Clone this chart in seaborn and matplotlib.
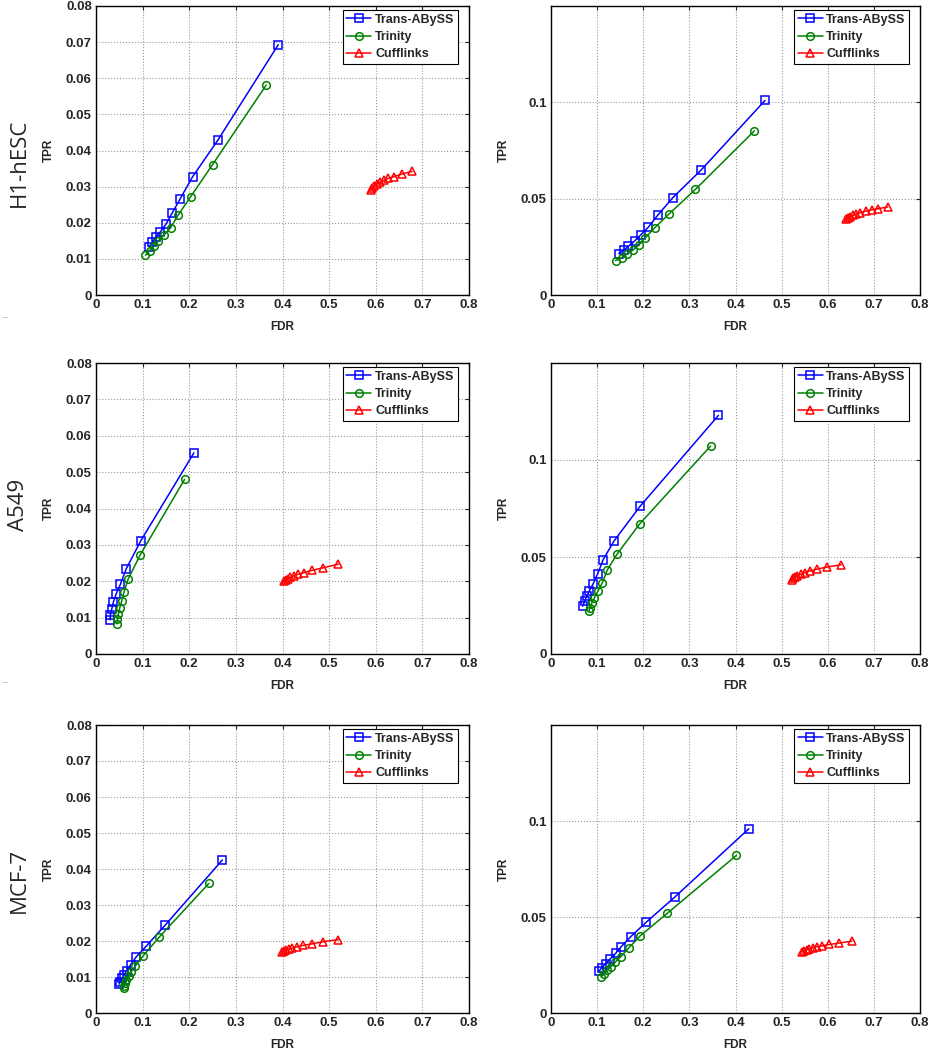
import matplotlib
matplotlib.use("Agg")
import matplotlib.pyplot as plt
import seaborn as sns
import pandas as pd

# method names, shared by all panels
METHODS = ["Trans-ABySS", "Trinity", "Cufflinks"]
ROW_NAMES = ["H1-hESC", "A549", "MCF-7"]

# H1-hESC, left panel
H1_L_ABYSS_FDR = [0.391, 0.261, 0.207, 0.180, 0.163, 0.150, 0.138, 0.128, 0.121, 0.114]
H1_L_ABYSS_TPR = [0.0693, 0.0428, 0.0327, 0.0265, 0.0226, 0.0196, 0.0175, 0.0160, 0.0146, 0.0133]
H1_L_TRIN_FDR = [0.365, 0.250, 0.203, 0.176, 0.160, 0.145, 0.134, 0.124, 0.115, 0.106]
H1_L_TRIN_TPR = [0.0581, 0.0361, 0.0272, 0.0221, 0.0186, 0.0165, 0.0150, 0.0136, 0.0123, 0.0110]
H1_L_CUFF_FDR = [0.678, 0.656, 0.640, 0.627, 0.617, 0.609, 0.602, 0.597, 0.593, 0.589]
H1_L_CUFF_TPR = [0.0342, 0.0335, 0.0328, 0.0323, 0.0317, 0.0312, 0.0307, 0.0301, 0.0296, 0.0290]

# H1-hESC, right panel
H1_R_ABYSS_FDR = [0.464, 0.326, 0.264, 0.232, 0.211, 0.195, 0.182, 0.168, 0.158, 0.147]
H1_R_ABYSS_TPR = [0.101, 0.065, 0.0505, 0.0416, 0.0352, 0.0313, 0.0282, 0.0253, 0.0234, 0.0215]
H1_R_TRIN_FDR = [0.441, 0.313, 0.256, 0.225, 0.204, 0.190, 0.177, 0.164, 0.153, 0.140]
H1_R_TRIN_TPR = [0.0852, 0.0548, 0.0421, 0.0349, 0.0296, 0.0258, 0.0232, 0.0211, 0.0194, 0.0179]
H1_R_CUFF_FDR = [0.730, 0.709, 0.695, 0.682, 0.671, 0.662, 0.655, 0.648, 0.643, 0.639]
H1_R_CUFF_TPR = [0.0457, 0.0448, 0.0442, 0.0435, 0.0428, 0.0421, 0.0414, 0.0407, 0.0400, 0.0395]

# A549, left panel
A5_L_ABYSS_FDR = [0.210, 0.0964, 0.0647, 0.0525, 0.0432, 0.0374, 0.0338, 0.0309, 0.0302]
A5_L_ABYSS_TPR = [0.0553, 0.0312, 0.0234, 0.0192, 0.0165, 0.0143, 0.0124, 0.0108, 0.0094]
A5_L_TRIN_FDR = [0.190, 0.095, 0.069, 0.060, 0.055, 0.051, 0.048, 0.046, 0.045]
A5_L_TRIN_TPR = [0.0480, 0.0273, 0.0206, 0.0170, 0.0145, 0.0127, 0.0110, 0.0096, 0.0083]
A5_L_CUFF_FDR = [0.520, 0.487, 0.464, 0.446, 0.434, 0.424, 0.417, 0.412, 0.408, 0.404]
A5_L_CUFF_TPR = [0.0247, 0.0237, 0.0230, 0.0224, 0.0219, 0.0215, 0.0211, 0.0207, 0.0203, 0.0200]

# A549, right panel
A5_R_ABYSS_FDR = [0.363, 0.193, 0.137, 0.113, 0.101, 0.0912, 0.0832, 0.0774, 0.0731, 0.0687]
A5_R_ABYSS_TPR = [0.1230, 0.0761, 0.0584, 0.0486, 0.0412, 0.0361, 0.0326, 0.0297, 0.0273, 0.0246]
A5_R_TRIN_FDR = [0.346, 0.192, 0.143, 0.122, 0.111, 0.102, 0.094, 0.088, 0.085, 0.082]
A5_R_TRIN_TPR = [0.1072, 0.0670, 0.0514, 0.0433, 0.0366, 0.0325, 0.0290, 0.0261, 0.0239, 0.0220]
A5_R_CUFF_FDR = [0.629, 0.598, 0.577, 0.561, 0.550, 0.541, 0.534, 0.529, 0.525, 0.522]
A5_R_CUFF_TPR = [0.0460, 0.0448, 0.0438, 0.0428, 0.0419, 0.0411, 0.0404, 0.0397, 0.0390, 0.0383]

# MCF-7, left panel
MC_L_ABYSS_FDR = [0.271, 0.149, 0.108, 0.0863, 0.0741, 0.0662, 0.0604, 0.0554, 0.0518, 0.0496]
MC_L_ABYSS_TPR = [0.0425, 0.0245, 0.0186, 0.0156, 0.0134, 0.0118, 0.0106, 0.0096, 0.0087, 0.0080]
MC_L_TRIN_FDR = [0.242, 0.135, 0.100, 0.084, 0.075, 0.070, 0.065, 0.063, 0.060, 0.059]
MC_L_TRIN_TPR = [0.0360, 0.0210, 0.0157, 0.0130, 0.0114, 0.0102, 0.0092, 0.0084, 0.0076, 0.0070]
MC_L_CUFF_FDR = [0.520, 0.487, 0.463, 0.445, 0.432, 0.421, 0.414, 0.408, 0.404, 0.399]
MC_L_CUFF_TPR = [0.0204, 0.0198, 0.0192, 0.0188, 0.0184, 0.0180, 0.0177, 0.0174, 0.0171, 0.0169]

# MCF-7, right panel
MC_R_ABYSS_FDR = [0.429, 0.268, 0.206, 0.173, 0.152, 0.140, 0.128, 0.119, 0.110, 0.104]
MC_R_ABYSS_TPR = [0.0960, 0.0603, 0.0472, 0.0398, 0.0345, 0.0310, 0.0281, 0.0257, 0.0236, 0.0217]
MC_R_TRIN_FDR = [0.402, 0.252, 0.194, 0.169, 0.151, 0.139, 0.130, 0.121, 0.114, 0.109]
MC_R_TRIN_TPR = [0.0821, 0.0519, 0.0403, 0.0340, 0.0293, 0.0264, 0.0241, 0.0222, 0.0205, 0.0188]
MC_R_CUFF_FDR = [0.652, 0.624, 0.603, 0.588, 0.576, 0.567, 0.559, 0.554, 0.549, 0.545]
MC_R_CUFF_TPR = [0.0374, 0.0364, 0.0357, 0.0350, 0.0345, 0.0340, 0.0334, 0.0329, 0.0324, 0.0319]

X_TICKS = [0, 0.1, 0.2, 0.3, 0.4, 0.5, 0.6, 0.7, 0.8]
X_LABELS = ["0", "0.1", "0.2", "0.3", "0.4", "0.5", "0.6", "0.7", "0.8"]
L_Y_TICKS = [0, 0.01, 0.02, 0.03, 0.04, 0.05, 0.06, 0.07, 0.08]
L_Y_LABELS = ["0", "0.01", "0.02", "0.03", "0.04", "0.05", "0.06", "0.07", "0.08"]
R_Y_TICKS = [0, 0.05, 0.1]
R_Y_LABELS = ["0", "0.05", "0.1"]

COLORS = ["#0000ff", "#008000", "#ff0000"]
MARKERS = ["s", "o", "^"]


def panel_frame(series):
    parts = []
    for name, (fdr, tpr) in zip(METHODS, series):
        parts.append(pd.DataFrame({"FDR": fdr, "TPR": tpr, "method": name}))
    return pd.concat(parts, ignore_index=True)


def draw_panel(ax, series, yticks, ylabels, ymax):
    df = panel_frame(series)
    sns.lineplot(data=df, x="FDR", y="TPR", hue="method", style="method",
                 hue_order=METHODS, style_order=METHODS,
                 palette=COLORS, markers=MARKERS, dashes=False,
                 estimator=None, sort=False, legend=False, ax=ax,
                 linewidth=1.1, markersize=5.5)
    for line in ax.lines:
        c = line.get_color()
        line.set_markerfacecolor("none")
        line.set_markeredgecolor(c)
        line.set_markeredgewidth(1.1)
    ax.set_xlim(0, 0.8)
    ax.set_ylim(0, ymax)
    ax.set_xticks(X_TICKS)
    ax.set_xticklabels(X_LABELS)
    ax.set_yticks(yticks)
    ax.set_yticklabels(ylabels)
    ax.grid(True, linestyle=":", color="#9a9a9a", linewidth=0.8)
    ax.tick_params(direction="in", top=True, right=True, length=3,
                   labelsize=9.5, width=0.8, pad=3)
    for lab in ax.get_xticklabels() + ax.get_yticklabels():
        lab.set_fontweight("bold")
    for sp in ax.spines.values():
        sp.set_color("black")
        sp.set_linewidth(1.0)
    ax.set_xlabel("FDR", fontsize=8.5, fontweight="bold", labelpad=7)
    ax.set_ylabel("TPR", fontsize=8.5, fontweight="bold", labelpad=8)
    leg = ax.legend(ax.lines, METHODS, loc="upper right",
                    bbox_to_anchor=(0.978, 0.995),
                    prop={"weight": "bold", "size": 9},
                    fancybox=False, edgecolor="black", framealpha=1,
                    handlelength=2.0, handletextpad=0.3, labelspacing=0.42,
                    borderpad=0.3, borderaxespad=0.2)
    leg.get_frame().set_linewidth(0.8)


sns.set_theme(style="white")
plt.rcParams["font.family"] = ["Liberation Sans", "DejaVu Sans"]

fig = plt.figure(figsize=(9.31, 10.5), dpi=100)

rows = [
    ([(H1_L_ABYSS_FDR, H1_L_ABYSS_TPR), (H1_L_TRIN_FDR, H1_L_TRIN_TPR), (H1_L_CUFF_FDR, H1_L_CUFF_TPR)],
     [(H1_R_ABYSS_FDR, H1_R_ABYSS_TPR), (H1_R_TRIN_FDR, H1_R_TRIN_TPR), (H1_R_CUFF_FDR, H1_R_CUFF_TPR)]),
    ([(A5_L_ABYSS_FDR, A5_L_ABYSS_TPR), (A5_L_TRIN_FDR, A5_L_TRIN_TPR), (A5_L_CUFF_FDR, A5_L_CUFF_TPR)],
     [(A5_R_ABYSS_FDR, A5_R_ABYSS_TPR), (A5_R_TRIN_FDR, A5_R_TRIN_TPR), (A5_R_CUFF_FDR, A5_R_CUFF_TPR)]),
    ([(MC_L_ABYSS_FDR, MC_L_ABYSS_TPR), (MC_L_TRIN_FDR, MC_L_TRIN_TPR), (MC_L_CUFF_FDR, MC_L_CUFF_TPR)],
     [(MC_R_ABYSS_FDR, MC_R_ABYSS_TPR), (MC_R_TRIN_FDR, MC_R_TRIN_TPR), (MC_R_CUFF_FDR, MC_R_CUFF_TPR)]),
]

# axes boxes in figure pixels: (top, bottom)
row_px = [(6, 295), (363, 654), (725, 1013)]
left_px = (96, 469)
right_px = (551, 920)
W, H = 931, 1050
label_y = [163, 505, 880]

for (left_series, right_series), (top, bot), name, ly in zip(rows, row_px, ROW_NAMES, label_y):
    axl = fig.add_axes([left_px[0] / W, 1 - bot / H, (left_px[1] - left_px[0]) / W, (bot - top) / H])
    draw_panel(axl, left_series, L_Y_TICKS, L_Y_LABELS, 0.08)
    axr = fig.add_axes([right_px[0] / W, 1 - bot / H, (right_px[1] - right_px[0]) / W, (bot - top) / H])
    draw_panel(axr, right_series, R_Y_TICKS, R_Y_LABELS, 0.15)
    fig.text(19 / W, 1 - ly / H, name, rotation=90, ha="center", va="center",
             fontsize=16, family=["Open Sans", "DejaVu Sans"])

fig.text(5 / W, 1 - 318 / H, "–", fontsize=6, color="#888888", ha="center", va="center")
fig.text(5 / W, 1 - 683 / H, "–", fontsize=6, color="#888888", ha="center", va="center")

fig.savefig("out.png", dpi=100)
